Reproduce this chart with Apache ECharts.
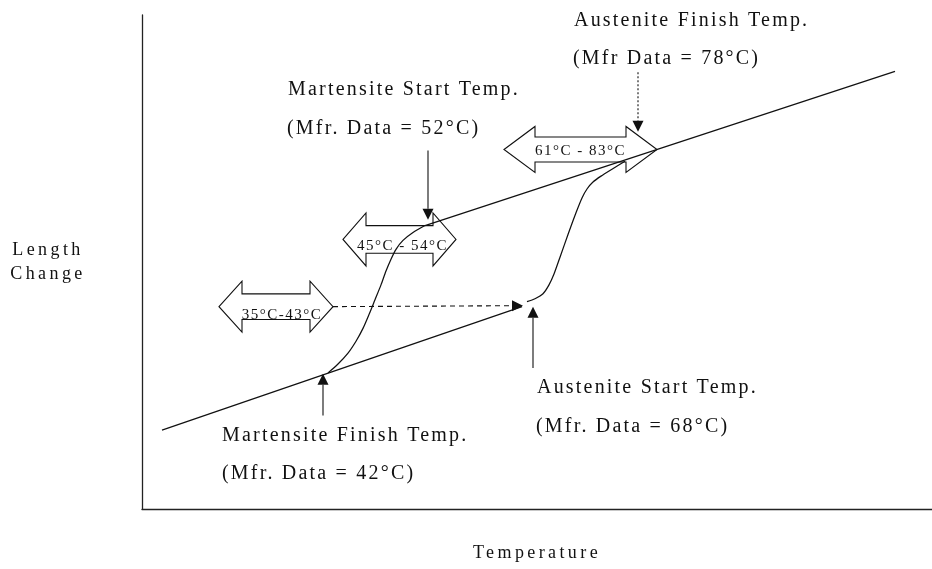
<!DOCTYPE html>
<html>
<head>
<meta charset="utf-8">
<script src="https://cdn.jsdelivr.net/npm/echarts@6/dist/echarts.min.js"></script>
<style>html,body{margin:0;padding:0;background:#fff}#c{width:932px;height:569px}</style>
</head>
<body>
<div id="c"></div>
<script>
// ---------------- DATA (schematic units: temperature along x, length change along y) ----------------
const xRange = [0, 79];
const yRange = [0, 50];

// straight parent-phase / product-phase lines
const lowerLine = [[2.0, 8.0], [38.0, 20.5]];
const upperLine = [[28.3, 28.7], [75.3, 44.3]];

// cooling transformation (martensite) curve, from Mf up to Ms
const coolingCurve = [[18.6, 13.8], [19.6, 14.7], [20.6, 15.8], [21.4, 17.0], [22.1, 18.3], [22.7, 19.7],
  [23.3, 21.2], [23.9, 22.7], [24.4, 24.1], [24.9, 25.3], [25.4, 26.3], [26.1, 27.2], [27.1, 28.0], [28.3, 28.7]];

// heating transformation (austenite) curve, from As up to Af
const heatingCurve = [[38.5, 21.0], [39.3, 21.3], [40.1, 21.8], [40.7, 22.7], [41.2, 23.8], [41.8, 25.5],
  [42.6, 27.8], [43.4, 30.0], [44.0, 31.5], [44.5, 32.4], [45.1, 33.1], [45.9, 33.7], [47.0, 34.4], [48.3, 35.2]];

// measured ranges (double block arrows): [left x, right x, y]
const rangeArrows = [[7.7, 19.1, 20.5], [20.1, 31.4, 27.3], [36.2, 51.5, 36.4]];
const rangeLabels = ['35°C-43°C', '45°C - 54°C', '61°C - 83°C'];

// pointer arrows: [x from, y from, x to, y to]
const pointers = [[28.6, 36.3, 28.6, 29.3], [49.6, 44.2, 49.6, 38.2], [18.1, 9.5, 18.1, 13.7],
  [39.1, 14.3, 39.1, 20.5], [19.1, 20.5, 38.1, 20.6]];
const pointerKinds = ['solid', 'dotted', 'solid', 'solid', 'dashed'];

// annotation texts: [x, y] anchors (left, middle)
const notePos = [[43.2, 49.45], [43.1, 45.6], [14.6, 42.4], [14.5, 38.5], [8.0, 7.45], [8.0, 3.6], [39.5, 12.25], [39.4, 8.4]];
const noteTexts = ['Austenite Finish Temp.', '(Mfr Data = 78°C)', 'Martensite Start Temp.', '(Mfr. Data = 52°C)',
  'Martensite Finish Temp.', '(Mfr. Data = 42°C)', 'Austenite Start Temp.', '(Mfr. Data = 68°C)'];

const xAxisTitle = 'Temperature';
const yAxisTitle = 'Length\nChange';

// ---------------- STYLE ----------------
const FONT = '"Liberation Serif", "Times New Roman", serif';
const INK = '#111';
const arrowShapes = [
  {head: 23, half: 25.5, shaft: 12.8, dx: 6, dy: 8},
  {head: 23, half: 26.5, shaft: 13.8, dx: 3, dy: 7},
  {head: 31, half: 23, shaft: 12.5, dx: 0, dy: 2}
];
// wide letter spacing of the typewriter-like source text
const LETTER_SPACING = {20: 2.2, 18: 3.4, 15: 1.5};
(function () {
  const P = CanvasRenderingContext2D.prototype;
  if (!('letterSpacing' in P)) return;
  function sp(ctx) {
    const m = /(\d+(?:\.\d+)?)px/.exec(ctx.font || '');
    const s = m ? Math.round(parseFloat(m[1])) : 12;
    return (LETTER_SPACING[s] || 0) + 'px';
  }
  const ft = P.fillText, mt = P.measureText;
  P.fillText = function (t, x, y, w) {
    this.letterSpacing = sp(this);
    const r = (w === undefined) ? ft.call(this, t, x, y) : ft.call(this, t, x, y, w);
    this.letterSpacing = '0px';
    return r;
  };
  P.measureText = function (t) {
    this.letterSpacing = sp(this);
    const r = mt.call(this, t);
    this.letterSpacing = '0px';
    return r;
  };
})();

const chart = echarts.init(document.getElementById('c'), null, {renderer: 'canvas'});

const lineStyle = {color: INK, width: 1.25};
function lineSeries(name, data, smooth) {
  return {
    name, type: 'line', data, smooth: smooth, showSymbol: false, symbol: 'none',
    lineStyle, z: 3, silent: true, animation: false
  };
}

chart.setOption({
  animation: false,
  backgroundColor: '#fff',
  grid: {left: 142, right: 0, top: 15, bottom: 54},
  xAxis: {
    type: 'value', min: xRange[0], max: xRange[1],
    axisLine: {show: true, lineStyle: {color: '#222', width: 1.3}},
    axisTick: {show: false}, axisLabel: {show: false}, splitLine: {show: false},
    name: xAxisTitle, nameLocation: 'middle', nameGap: 44,
    nameTextStyle: {fontFamily: FONT, fontSize: 18, color: INK, verticalAlign: 'middle'}
  },
  yAxis: {
    type: 'value', min: yRange[0], max: yRange[1],
    axisLine: {show: true, lineStyle: {color: '#222', width: 1.3}},
    axisTick: {show: false}, axisLabel: {show: false}, splitLine: {show: false},
    name: yAxisTitle, nameLocation: 'middle', nameRotate: 0, nameGap: 94,
    nameTextStyle: {fontFamily: FONT, fontSize: 18, color: INK, align: 'center', verticalAlign: 'middle',
      lineHeight: 24, padding: [0, 0, 81, 0]}
  },
  series: [
    {
      type: 'custom', name: 'ranges', z: 1, clip: false, silent: true,
      data: rangeArrows, encode: {x: [0, 1], y: 2},
      renderItem: function (params, api) {
        const s = arrowShapes[params.dataIndex];
        const a = api.coord([api.value(0), api.value(2)]);
        const b = api.coord([api.value(1), api.value(2)]);
        const x1 = a[0], x2 = b[0], y = a[1];
        const pts = [[x1, y], [x1 + s.head, y - s.half], [x1 + s.head, y - s.shaft], [x2 - s.head, y - s.shaft],
          [x2 - s.head, y - s.half], [x2, y], [x2 - s.head, y + s.half], [x2 - s.head, y + s.shaft],
          [x1 + s.head, y + s.shaft], [x1 + s.head, y + s.half]];
        return {
          type: 'group', children: [
            {type: 'polygon', shape: {points: pts}, style: {fill: '#fff', stroke: INK, lineWidth: 1.1}},
            {type: 'text', x: (x1 + x2) / 2 + s.dx, y: y + s.dy,
              style: {text: rangeLabels[params.dataIndex], fill: INK, font: '15px ' + FONT,
                align: 'center', verticalAlign: 'middle'}}
          ]
        };
      }
    },
    lineSeries('lower line', lowerLine, false),
    lineSeries('upper line', upperLine, false),
    lineSeries('cooling', coolingCurve, 0.25),
    lineSeries('heating', heatingCurve, 0.25),
    {
      type: 'custom', name: 'pointers', z: 4, clip: false, silent: true,
      data: pointers, encode: {x: [0, 2], y: [1, 3]},
      renderItem: function (params, api) {
        const p1 = api.coord([api.value(0), api.value(1)]);
        const p2 = api.coord([api.value(2), api.value(3)]);
        const dx = p2[0] - p1[0], dy = p2[1] - p1[1];
        const len = Math.sqrt(dx * dx + dy * dy) || 1;
        const ux = dx / len, uy = dy / len, nx = -uy, ny = ux;
        const L = 11, W = 5.5;
        const bx = p2[0] - ux * L, by = p2[1] - uy * L;
        const kind = pointerKinds[params.dataIndex];
        const dash = kind === 'dashed' ? [5, 4] : (kind === 'dotted' ? [2, 2] : null);
        return {
          type: 'group', children: [
            {type: 'line', shape: {x1: p1[0], y1: p1[1], x2: bx, y2: by},
              style: {stroke: INK, lineWidth: 1.1, lineDash: dash}},
            {type: 'polygon', shape: {points: [[p2[0], p2[1]], [bx + nx * W, by + ny * W], [bx - nx * W, by - ny * W]]},
              style: {fill: INK}}
          ]
        };
      }
    },
    {
      type: 'custom', name: 'notes', z: 5, clip: false, silent: true,
      data: notePos, encode: {x: 0, y: 1},
      renderItem: function (params, api) {
        const p = api.coord([api.value(0), api.value(1)]);
        return {
          type: 'text', x: p[0], y: p[1],
          style: {text: noteTexts[params.dataIndex], fill: INK, font: '20px ' + FONT,
            align: 'left', verticalAlign: 'middle'}
        };
      }
    }
  ]
});
</script>
</body>
</html>
